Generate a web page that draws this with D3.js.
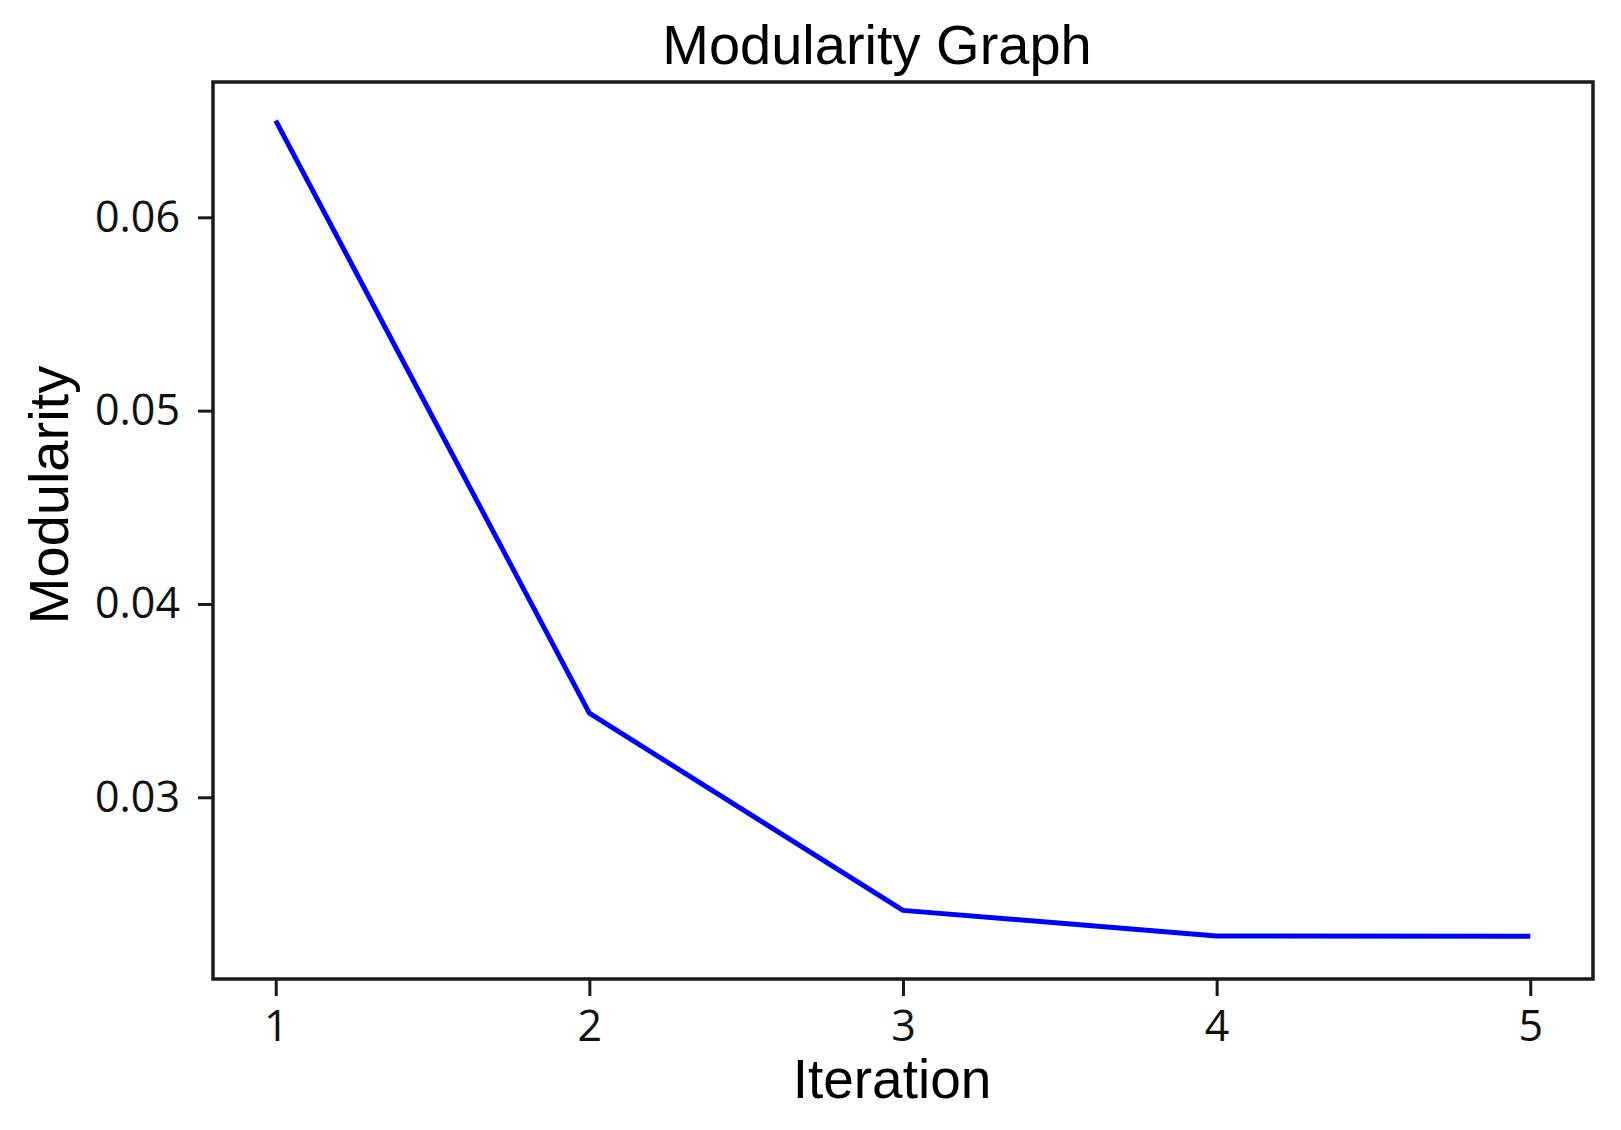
<!DOCTYPE html>
<html>
<head>
<meta charset="utf-8">
<script src="https://cdn.jsdelivr.net/npm/d3@7/dist/d3.min.js"></script>
<style>
  html, body { margin: 0; padding: 0; background: #fff; }
  svg { display: block; }
</style>
</head>
<body>
<svg id="chart" width="1621" height="1130"></svg>
<script>
const iterations = [1, 2, 3, 4, 5];
const modularity = [0.0650, 0.03435, 0.02415, 0.02283, 0.02281];
const xDomain = [0.8, 5.2];
const yDomain = [0.0206, 0.0670];
const xTicks = [1, 2, 3, 4, 5];
const yTicks = [0.03, 0.04, 0.05, 0.06];
const titleText = "Modularity Graph";
const xLabel = "Iteration";
const yLabel = "Modularity";

(function () {
const svg = d3.select("#chart");
const plotL = 213, plotR = 1593, plotT = 82, plotB = 979;

const x = d3.scaleLinear().domain(xDomain).range([plotL, plotR]);
const y = d3.scaleLinear().domain(yDomain).range([plotB, plotT]);

// line
const line = d3.line().x((d, i) => x(iterations[i])).y(d => y(d));
svg.append("path")
  .datum(modularity)
  .attr("d", line)
  .attr("fill", "none")
  .attr("stroke", "#0000ff")
  .attr("stroke-width", 5)
  .attr("stroke-linejoin", "round");

// frame
svg.append("rect")
  .attr("x", plotL).attr("y", plotT)
  .attr("width", plotR - plotL).attr("height", plotB - plotT)
  .attr("fill", "none").attr("stroke", "#1a1a1a").attr("stroke-width", 3.5);

// x axis
const xAxis = d3.axisBottom(x).tickValues(xTicks).tickFormat(d3.format("d"))
  .tickSize(17).tickPadding(14);
const gx = svg.append("g").attr("transform", `translate(0,${plotB})`).call(xAxis);
gx.select(".domain").remove();
gx.selectAll(".tick line").attr("stroke", "#1a1a1a").attr("stroke-width", 3);
gx.selectAll(".tick text")
  .attr("font-family", "'Open Sans', sans-serif")
  .attr("font-size", 43).attr("fill", "#111");

// y axis
const yAxis = d3.axisLeft(y).tickValues(yTicks).tickFormat(d3.format(".2f"))
  .tickSize(15).tickPadding(18);
const gy = svg.append("g").attr("transform", `translate(${plotL},0)`).call(yAxis);
gy.select(".domain").remove();
gy.selectAll(".tick line").attr("stroke", "#1a1a1a").attr("stroke-width", 3);
gy.selectAll(".tick text")
  .attr("font-family", "'Open Sans', sans-serif")
  .attr("font-size", 43).attr("fill", "#111")
  .attr("dy", "0.32em");

// title
svg.append("text")
  .attr("x", 877).attr("y", 64)
  .attr("text-anchor", "middle")
  .attr("font-family", "'Liberation Sans', Arial, sans-serif")
  .attr("font-size", 56).attr("fill", "#000")
  .text(titleText);

// x label
svg.append("text")
  .attr("x", 892).attr("y", 1098)
  .attr("text-anchor", "middle")
  .attr("font-family", "'Liberation Sans', Arial, sans-serif")
  .attr("font-size", 55).attr("fill", "#000")
  .text(xLabel);

// y label
svg.append("text")
  .attr("transform", "translate(68,495) rotate(-90)")
  .attr("text-anchor", "middle")
  .attr("font-family", "'Liberation Sans', Arial, sans-serif")
  .attr("font-size", 56).attr("fill", "#000")
  .text(yLabel);
})();
</script>
</body>
</html>
